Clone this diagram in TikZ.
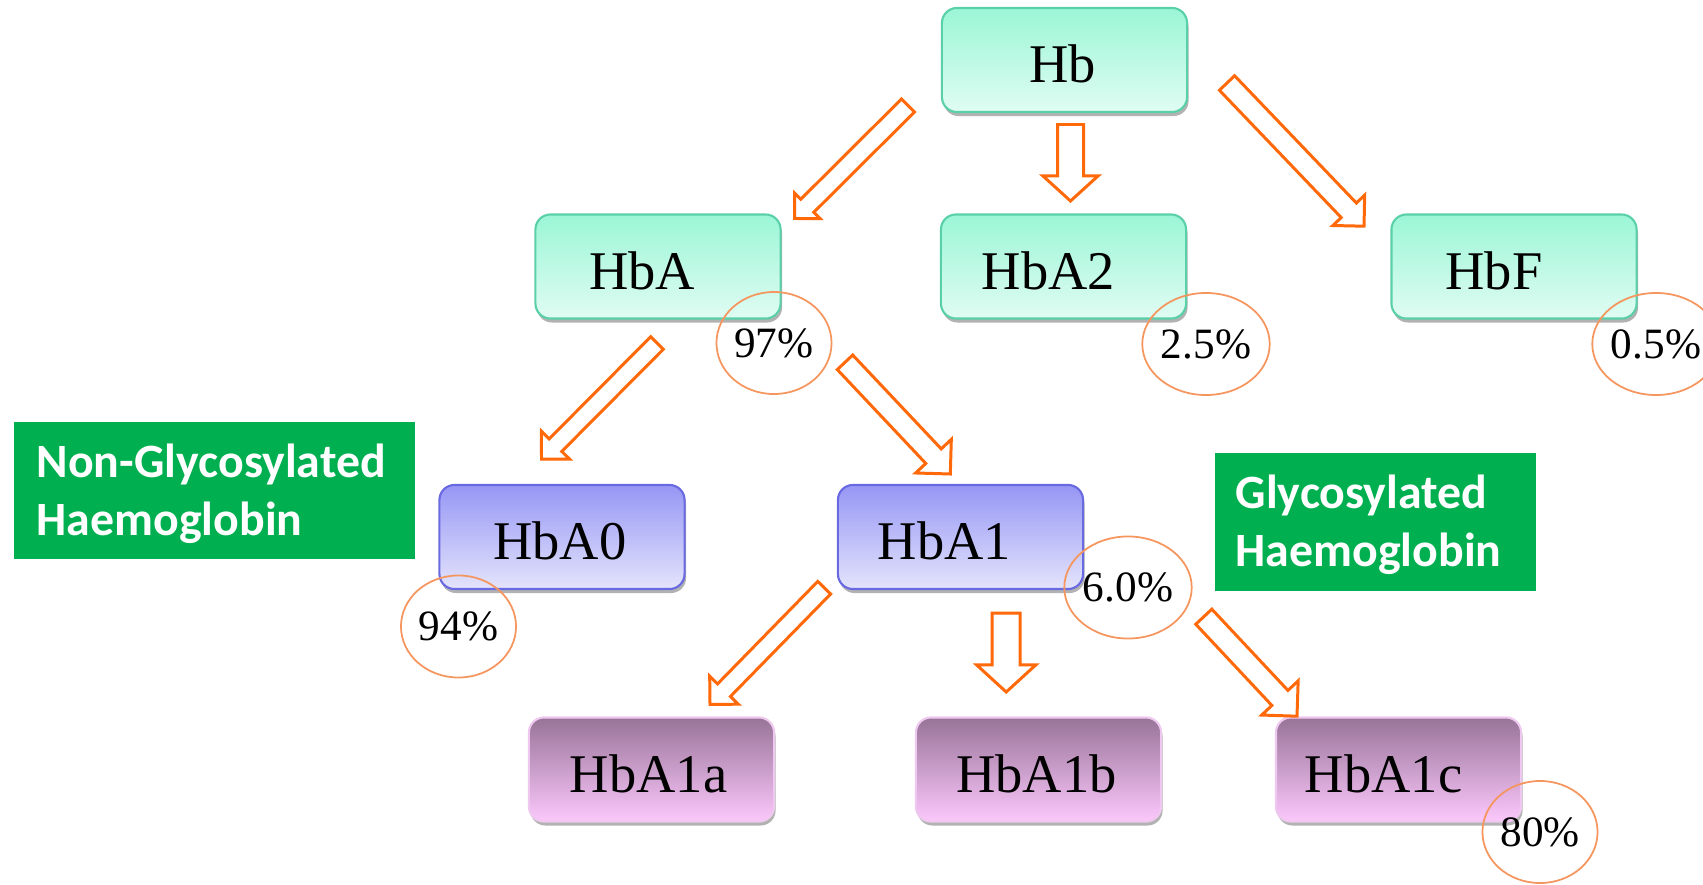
\documentclass[tikz,border=0pt]{standalone}
\usepackage{fontspec}
\setmainfont{Liberation Serif}
\newfontfamily\gfont{Carlito}
\usetikzlibrary{calc,shadows,shapes.geometric}
\definecolor{arrorange}{RGB}{255,105,10}
\definecolor{circorange}{RGB}{245,150,95}
\definecolor{ggreen}{RGB}{0,176,80}
\definecolor{tealtop}{RGB}{155,246,214}
\definecolor{tealbot}{RGB}{224,252,243}
\definecolor{tealline}{RGB}{90,208,170}
\definecolor{bluetop}{RGB}{150,150,245}
\definecolor{bluebot}{RGB}{228,228,252}
\definecolor{blueline}{RGB}{105,105,225}
\definecolor{purptop}{RGB}{152,116,152}
\definecolor{purpbot}{RGB}{252,200,252}
\definecolor{purpline}{RGB}{238,200,238}
\newcommand\blockarr[5]{%
  \coordinate (ahb) at ($(#2)!#5!(#1)$);
  \draw[barrow] ($(#1)!#3!90:(#2)$) -- ($(ahb)!#3!90:(#2)$) -- ($(ahb)!#4!90:(#2)$)
    -- (#2) -- ($(ahb)!#4!-90:(#2)$) -- ($(ahb)!#3!-90:(#2)$) -- ($(#1)!#3!-90:(#2)$) -- cycle;
}
% shift the centred text left by half of #1
\newcommand\lft[2]{\hspace*{-#1}#2}
\begin{document}
\begin{tikzpicture}[x=0.01cm,y=-0.01cm,
  box/.style={rounded corners=1.5mm, minimum width=2.45cm, minimum height=1.04cm,
    inner sep=0pt, font=\fontsize{15.5pt}{18pt}\selectfont, text height=4.5mm, text depth=0pt,
    line width=0.6pt,
    drop shadow={shadow xshift=0.15mm, shadow yshift=-0.4mm, fill=black, opacity=0.3}},
  tealbox/.style={box, draw=tealline, top color=tealtop, bottom color=tealbot},
  bluebox/.style={box, draw=blueline, top color=bluetop, bottom color=bluebot},
  purpbox/.style={box, draw=purpline, top color=purptop, bottom color=purpbot},
  pcirc/.style={ellipse, draw=circorange, line width=0.5pt, minimum width=11.5mm,
    minimum height=10.2mm, inner sep=0pt, font=\fontsize{12.3pt}{14pt}\selectfont},
  gbox/.style={fill=ggreen, draw=none, inner sep=0pt},
  gtext/.style={anchor=base west, inner sep=0pt, text=white,
    font=\gfont\bfseries\fontsize{13.6pt}{16pt}\selectfont},
  barrow/.style={draw=arrorange, fill=white, line width=0.85pt, line join=miter}
]
\useasboundingbox (0,0) rectangle (1703,885);

% boxes
\node[tealbox] (hb)   at (1064.5,60)  {\lft{0.4mm}{Hb}};
\node[tealbox] (hba)  at (658,266.5)  {\lft{3.2mm}{HbA}};
\node[tealbox] (hba2) at (1063.5,266.5) {\lft{3.0mm}{HbA2}};
\node[tealbox] (hbf)  at (1514,266.5) {\lft{4.0mm}{HbF}};
\node[bluebox] (hba0) at (562,537)    {\lft{0.4mm}{HbA0}};
\node[bluebox] (hba1) at (960.5,537)  {\lft{3.2mm}{HbA1}};
\node[purpbox] (hba1a) at (651.5,769.5) {\lft{0.6mm}{HbA1a}};
\node[purpbox] (hba1b) at (1038.5,769.5) {\lft{0.4mm}{HbA1b}};
\node[purpbox] (hba1c) at (1398.5,769.5) {\lft{3.0mm}{HbA1c}};

% percentage circles
\node[pcirc] (c97) at (774,343) {97\%};
\node[pcirc] (c25) at (1206,344) {2.5\%};
\node[pcirc] (c05) at (1656,344) {0.5\%};
\node[pcirc] (c94) at (458.5,626.5) {94\%};
\node[pcirc] (c60) at (1128,587.5) {6.0\%};
\node[pcirc] (c80) at (1540,832) {80\%};

% green labels
\node[gbox, minimum width=4.01cm, minimum height=1.37cm] (ngbox) at (214.5,490.5) {};
\node[gtext] (ng1) at (36,477) {Non-Glycosylated};
\node[gtext] (ng2) at (36,535) {Haemoglobin};
\node[gbox, minimum width=3.21cm, minimum height=1.38cm] (gbox) at (1375.5,522) {};
\node[gtext] (g1) at (1235,508) {Glycosylated};
\node[gtext] (g2) at (1235,566.5) {Haemoglobin};

% arrow end points
\coordinate (a1s) at (908,105.5);   \coordinate (a1e) at (794.5,218.5);
\coordinate (a2s) at (1070.5,124.5); \coordinate (a2e) at (1070.5,201);
\coordinate (a3s) at (1227,83);     \coordinate (a3e) at (1364,226.2);
\coordinate (a4s) at (657,343);     \coordinate (a4e) at (541.5,459.2);
\coordinate (a5s) at (845,362.3);   \coordinate (a5e) at (950.3,474);
\coordinate (a6s) at (824.2,587.7); \coordinate (a6e) at (710,704.5);
\coordinate (a7s) at (1006.2,613.2); \coordinate (a7e) at (1006.2,692);
\coordinate (a8s) at (1203.8,616.7); \coordinate (a8e) at (1297,716.2);

\blockarr{a1s}{a1e}{0.92mm}{1.8mm}{1.8mm}
\blockarr{a2s}{a2e}{1.3mm}{2.75mm}{2.5mm}
\blockarr{a3s}{a3e}{1.05mm}{2.2mm}{2.2mm}
\blockarr{a4s}{a4e}{0.89mm}{1.98mm}{1.98mm}
\blockarr{a5s}{a5e}{1.06mm}{2.45mm}{2.45mm}
\blockarr{a6s}{a6e}{0.9mm}{2.0mm}{2.0mm}
\blockarr{a7s}{a7e}{1.4mm}{2.95mm}{2.7mm}
\blockarr{a8s}{a8e}{1.1mm}{2.5mm}{2.5mm}
\end{tikzpicture}
\end{document}
